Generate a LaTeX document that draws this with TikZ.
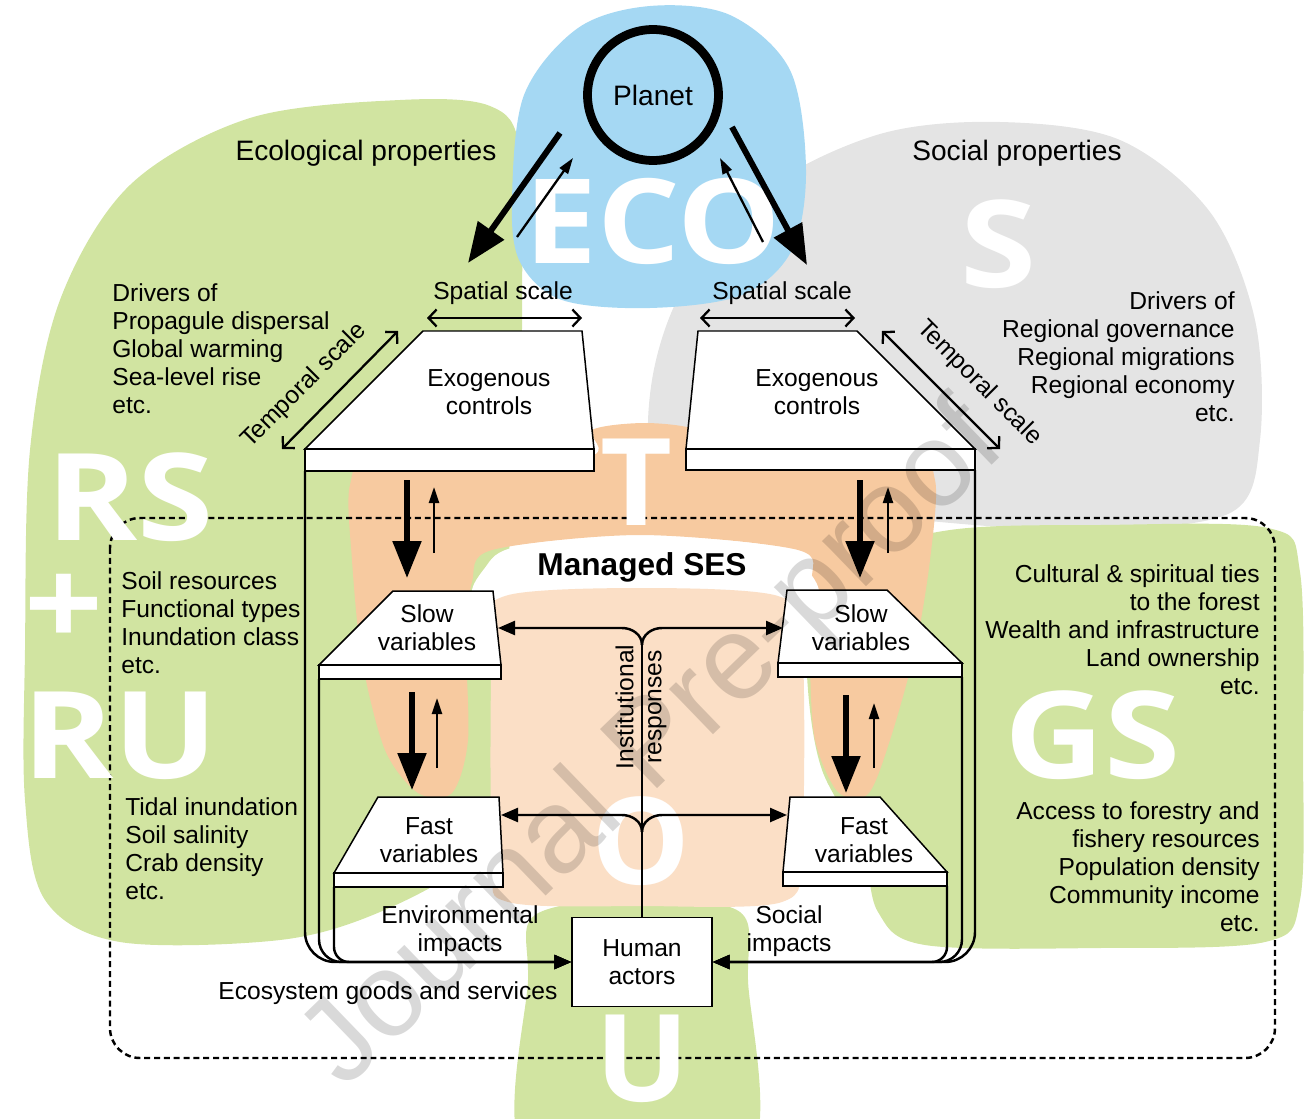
\documentclass[tikz,border=0pt]{standalone}
\usepackage{fontspec}
\setmainfont{Liberation Sans}
\newfontfamily\bigfont{Open Sans}
\usetikzlibrary{arrows.meta,positioning}
\definecolor{ecoblue}{RGB}{165,216,243}
\definecolor{rsgreen}{RGB}{209,228,161}
\definecolor{sgrey}{RGB}{228,228,228}
\definecolor{torange}{RGB}{247,202,160}
\definecolor{opeach}{RGB}{251,223,198}
\tikzset{
  wtip/.tip={Triangle[length=0.34cm,width=0.28cm]},
  btip/.tip={Triangle[length=0.74cm,width=0.56cm]},
  ttip/.tip={Triangle[length=0.32cm,width=0.2cm]},
  stip/.tip={Straight Barb[length=0.16cm,width=0.34cm]},
}
\begin{document}
\begin{tikzpicture}[x=0.02cm, y=-0.02cm,
    lbl/.style={inner sep=0pt, font=\fontsize{14pt}{15.9pt}\selectfont},
    headlbl/.style={inner sep=0pt, font=\fontsize{16pt}{19pt}\selectfont},
    bigletter/.style={inner sep=0pt, anchor=base, xscale=1.14, text=white, font=\bigfont\bfseries\fontsize{69pt}{69pt}\selectfont},
    block/.style={draw, fill=white, line width=0.85pt},
    wire/.style={line width=1.4pt},
    bigarr/.style={line width=3pt, -btip},
    thinarr/.style={line width=1.3pt, -ttip},
    scalearr/.style={line width=1.3pt, stip-stip}]
  \useasboundingbox (0,0) rectangle (1306,1119);
  \clip (0,0) rectangle (1306,1119);

  % background blobs
  \fill[rsgreen] plot[smooth cycle, tension=0.55] coordinates {(25,650) (30,450) (60,300) (130,185) (250,118) (400,100) (490,106) (520,150) (522,300) (520,440) (508,560) (500,620) (500,790) (470,860) (380,912) (280,940) (120,942) (45,900) (25,800)};
  \fill[sgrey] plot[smooth cycle, tension=0.55] coordinates {(655,470) (652,380) (685,285) (765,190) (880,134) (1000,122) (1120,140) (1210,212) (1255,320) (1260,440) (1232,512) (1100,530) (940,522) (720,495)};
  \fill[ecoblue] plot[smooth cycle, tension=0.55] coordinates {(512,200) (524,95) (578,28) (650,6) (730,15) (790,70) (806,170) (792,250) (742,295) (650,308) (562,300) (520,262)};
  \fill[rsgreen] plot[smooth cycle, tension=0.55] coordinates {(810,620) (842,562) (950,530) (1100,525) (1268,528) (1300,572) (1303,750) (1300,900) (1265,942) (1100,948) (925,945) (878,912) (862,845) (822,770) (808,690)};
  \fill[rsgreen] plot[smooth cycle, tension=0.5] coordinates {(528,980) (535,915) (640,897) (740,912) (748,980) (746,1160) (528,1160)};
  \fill[torange] plot[smooth cycle, tension=0.5] coordinates {(350,485) (352,560) (362,660) (385,750) (418,793) (452,793) (468,740) (466,640) (472,582) (492,550) (640,535) (798,550) (812,582) (810,660) (815,740) (838,792) (868,794) (890,740) (915,650) (930,560) (935,480) (905,462) (702,456) (696,430) (645,423) (592,430) (586,457) (380,462)};
  \fill[white] plot[smooth cycle, tension=0.6] coordinates {(484,605) (487,565) (525,545) (642,537) (765,545) (804,565) (806,605) (642,612)};
  \fill[opeach] plot[smooth cycle, tension=0.5] coordinates {(505,596) (642,588) (778,596) (802,640) (802,850) (782,902) (642,906) (508,902) (492,860) (492,640)};

  % managed SES frame
  \draw[line width=1.4pt, dash pattern=on 3.4pt off 2.2pt, rounded corners=0.6cm] (110,518) rectangle (1275,1058);

  % big letters
  \node[bigletter, xscale=0.97, font=\bigfont\bfseries\fontsize{67pt}{67pt}\selectfont] (eco) at (653,263) {ECO};
  \node[bigletter] (sletter) at (999,287) {S};
  \node[bigletter] (rs) at (130,540) {RS};
  \node[bigletter, anchor=center] (plus) at (64,610) {+};
  \node[bigletter] (ru) at (120,778) {RU};
  \node[bigletter] (gs) at (1093,778) {GS};
  \node[bigletter, xscale=0.9] (tletter) at (637,525) {T};
  \node[bigletter, xscale=0.9] (oletter) at (641,884) {O};
  \node[bigletter, xscale=0.9] (uletter) at (643,1101) {U};

  % planet
  \node[draw, circle, line width=5pt, minimum size=2.62cm, inner sep=0pt, font=\fontsize{16pt}{19pt}\selectfont] (planet) at (653,95) {Planet};
  \draw[line width=3.4pt, -{Triangle[length=0.8cm,width=0.62cm]}] (560,133) -- (468,263);
  \draw[thinarr] (517,237) -- (573,158);
  \draw[line width=3.4pt, -{Triangle[length=0.8cm,width=0.62cm]}] (732,127) -- (807,265);
  \draw[thinarr] (763,242) -- (720,158);

  \node[headlbl] (ecoprop) at (366,153) {Ecological properties};
  \node[headlbl] (socprop) at (1017,153) {Social properties};

  % exogenous controls
  \draw[block] (423,331) -- (582,331) -- (594,449) -- (305,449) -- cycle;
  \draw[block] (305,449) rectangle (594,471);
  \node[lbl, align=center] (exoL) at (489,392) {Exogenous\\controls};
  \draw[block] (698,331) -- (857,331) -- (975,449) -- (686,449) -- cycle;
  \draw[block] (686,449) rectangle (975,470);
  \node[lbl, align=center] (exoR) at (817,392) {Exogenous\\controls};
  \coordinate (exoLbase) at (305,471);
  \coordinate (exoRbase) at (975,470);

  \node[lbl] (spatL) at (503,293) {Spatial scale};
  \draw[scalearr] (427,318) -- (582,318);
  \node[lbl] (spatR) at (782,293) {Spatial scale};
  \draw[scalearr] (700,318) -- (855,318);
  \draw[scalearr] (282,449) -- (398,331);
  \node[lbl, rotate=45] (tempL) at (304,386) {Temporal scale};
  \draw[scalearr] (882,331) -- (1000,449);
  \node[lbl, rotate=-45] (tempR) at (979,383) {Temporal scale};

  % slow variables
  \draw[block] (393,591) -- (493,591) -- (501,665) -- (319,665) -- cycle;
  \draw[block] (319,665) rectangle (501,679);
  \node[lbl, align=center] (slowL) at (427,628) {Slow\\variables};
  \draw[block] (787,590) -- (887,590) -- (962,663) -- (778,663) -- cycle;
  \draw[block] (778,663) rectangle (962,677);
  \node[lbl, align=center] (slowR) at (861,628) {Slow\\variables};
  \coordinate (slowLbase) at (319,679);
  \coordinate (slowRbase) at (962,677);
  \coordinate (slowLin) at (498,628);
  \coordinate (slowRin) at (783,628);

  % fast variables
  \draw[block] (378,797) -- (499,797) -- (503,873) -- (334,873) -- cycle;
  \draw[block] (334,873) rectangle (503,887);
  \node[lbl, align=center] (fastL) at (429,840) {Fast\\variables};
  \draw[block] (790,797) -- (880,797) -- (947,872) -- (783,872) -- cycle;
  \draw[block] (783,872) rectangle (947,886);
  \node[lbl, align=center] (fastR) at (864,840) {Fast\\variables};
  \coordinate (fastLbase) at (334,887);
  \coordinate (fastRbase) at (947,886);
  \coordinate (fastLin) at (501,815);
  \coordinate (fastRin) at (787,815);

  % level arrows
  \draw[bigarr] (407,480) -- (407,578);
  \draw[thinarr] (434,553) -- (434,487);
  \draw[bigarr] (860,480) -- (860,578);
  \draw[thinarr] (888,553) -- (888,487);
  \draw[bigarr] (412,692) -- (412,790);
  \draw[thinarr] (437,768) -- (437,698);
  \draw[bigarr] (846,695) -- (846,793);
  \draw[thinarr] (874,768) -- (874,703);

  \node[lbl, font=\bfseries\fontsize{18pt}{21pt}\selectfont] (ses) at (642,567) {Managed SES};

  % human actors and feedbacks
  \node[block, minimum width=2.8cm, minimum height=1.78cm, align=center, font=\fontsize{14pt}{15.9pt}\selectfont] (human) at (642,962) {Human\\actors};
  \coordinate (jtop) at (642,645);
  \coordinate (jlow) at (642,832);
  \draw[wire] (human.north) -- (jtop);
  \draw[wire, -wtip] (jtop) to[out=90, in=0] (622,628) -- (slowLin);
  \draw[wire, -wtip] (jtop) to[out=90, in=180] (662,628) -- (slowRin);
  \draw[wire, -wtip] (jlow) to[out=90, in=0] (622,815) -- (fastLin);
  \draw[wire, -wtip] (jlow) to[out=90, in=180] (662,815) -- (fastRin);
  \node[lbl, rotate=90, align=center] (inst) at (641,707) {Institutional\\responses};

  \draw[wire, -wtip, rounded corners=0.6cm] (exoLbase) |- (human.west);
  \draw[wire, -wtip, rounded corners=0.45cm] (slowLbase) |- (human.west);
  \draw[wire, -wtip, rounded corners=0.3cm] (fastLbase) |- (human.west);
  \draw[wire, -wtip, rounded corners=0.6cm] (exoRbase) |- (human.east);
  \draw[wire, -wtip, rounded corners=0.45cm] (slowRbase) |- (human.east);
  \draw[wire, -wtip, rounded corners=0.3cm] (fastRbase) |- (human.east);

  \node[lbl, align=center] (envimp) at (460,931) {Environmental\\impacts};
  \node[lbl, align=center] (socimp) at (789,931) {Social\\impacts};
  \node[lbl] (goods) at (388,993) {Ecosystem goods and services};

  % property lists
  \node[lbl, align=left, anchor=west] (drvL) at (112,349) {Drivers of\\Propagule dispersal\\Global warming\\Sea-level rise\\etc.};
  \node[lbl, align=right, anchor=east] (drvR) at (1235,357) {Drivers of\\Regional governance\\Regional migrations\\Regional economy\\etc.};
  \node[lbl, align=left, anchor=west] (soil) at (121,623) {Soil resources\\Functional types\\Inundation class\\etc.};
  \node[lbl, align=left, anchor=west] (tidal) at (125,849) {Tidal inundation\\Soil salinity\\Crab density\\etc.};
  \node[lbl, align=right, anchor=east] (cult) at (1260,630) {Cultural \& spiritual ties\\to the forest\\Wealth and infrastructure\\Land ownership\\etc.};
  \node[lbl, align=right, anchor=east] (access) at (1260,867) {Access to forestry and\\fishery resources\\Population density\\Community income\\etc.};

  % watermark
  \node[rotate=44, text=black, opacity=0.15, inner sep=0pt, font=\fontsize{68pt}{68pt}\selectfont] (mark) at (655,748) {Journal Pre-proof};
\end{tikzpicture}
\end{document}
